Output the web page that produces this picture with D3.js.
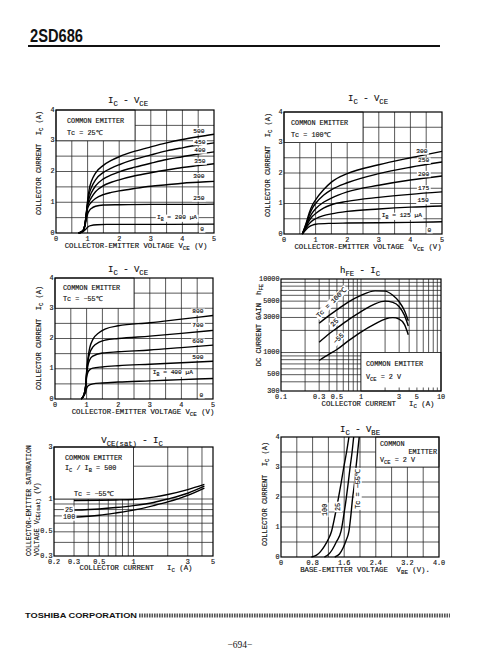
<!DOCTYPE html>
<html><head><meta charset="utf-8">
<script src="https://cdn.jsdelivr.net/npm/d3@7"></script>
<style>
html,body{margin:0;padding:0;background:#fff;}
svg text{font-family:"Liberation Mono","DejaVu Sans Mono",monospace;fill:#111;white-space:pre;stroke:#111;stroke-width:0.15px;}
</style></head><body>
<svg id="page" width="490" height="660"></svg>
<script>
// ================= DATA =================
// Panels 1-3 : IC - VCE
const vceTicks = [0, 1, 2, 3, 4, 5];
const icTicks = [0, 1, 2, 3, 4];
const vceGrid = [0.5, 1, 1.5, 2, 2.5, 3, 3.5, 4, 4.5];
const icGrid = [0.5, 1, 1.5, 2, 2.5, 3, 3.5];

// Tc = 25 C  (IB in uA)
const ib25Labels = ["500", "450", "400", "350", "300", "250", "I_{B} = 200 µA", "0"];
const ic25_500 = [[0.72,0],[0.85,0.07],[0.92,0.3],[0.97,0.75],[1.0,1.05],[1.05,1.42],[1.12,1.68],[1.25,1.95],[1.5,2.2],[1.75,2.36],[2,2.48],[2.5,2.66],[3,2.8],[3.5,2.93],[4,3.04],[4.5,3.13],[5,3.21]];
const ic25_450 = [[0.72,0],[0.85,0.07],[0.92,0.3],[0.97,0.72],[1.0,0.98],[1.05,1.27],[1.12,1.48],[1.25,1.73],[1.5,1.97],[1.75,2.11],[2,2.22],[2.5,2.4],[3,2.54],[3.5,2.67],[4,2.77],[4.5,2.86],[5,2.93]];
const ic25_400 = [[0.72,0],[0.85,0.07],[0.92,0.3],[0.97,0.7],[1.0,0.92],[1.05,1.13],[1.12,1.31],[1.25,1.53],[1.5,1.76],[1.75,1.89],[2,1.99],[2.5,2.14],[3,2.27],[3.5,2.39],[4,2.48],[4.5,2.57],[5,2.64]];
const ic25_350 = [[0.72,0],[0.85,0.07],[0.92,0.3],[0.97,0.68],[1.0,0.87],[1.05,1.02],[1.12,1.15],[1.25,1.34],[1.5,1.54],[1.75,1.65],[2,1.73],[2.5,1.86],[3,1.96],[3.5,2.05],[4,2.13],[4.5,2.19],[5,2.25]];
const ic25_300 = [[0.72,0],[0.85,0.07],[0.92,0.28],[0.97,0.64],[1.0,0.8],[1.05,0.91],[1.12,1.0],[1.25,1.12],[1.5,1.25],[1.75,1.32],[2,1.37],[2.5,1.45],[3,1.52],[3.5,1.57],[4,1.62],[4.5,1.65],[5,1.68]];
const ic25_250 = [[0.72,0],[0.85,0.06],[0.92,0.25],[0.97,0.5],[1.0,0.62],[1.05,0.72],[1.12,0.8],[1.25,0.87],[1.5,0.91],[2,0.92],[3,0.93],[4,0.93],[5,0.94]];
const ic25_200 = [[0.7,0],[0.85,0.04],[0.95,0.13],[1.0,0.19],[1.1,0.24],[1.3,0.27],[1.6,0.28],[3,0.28],[5,0.29]];

// Tc = 100 C
const ib100Labels = ["300", "250", "200", "175", "150", "I_{B} = 125 µA", "0"];
const ic100_300 = [[0.58,0],[0.7,0.35],[0.8,0.7],[0.9,0.95],[1,1.12],[1.25,1.45],[1.5,1.7],[2,1.98],[3,2.27],[4,2.5],[5,2.71]];
const ic100_250 = [[0.58,0],[0.7,0.32],[0.8,0.62],[0.9,0.85],[1,1.0],[1.25,1.27],[1.5,1.45],[2,1.68],[3,1.98],[4,2.19],[5,2.36]];
const ic100_200 = [[0.58,0],[0.7,0.28],[0.8,0.52],[0.9,0.7],[1,0.83],[1.25,1.04],[1.5,1.18],[2,1.38],[3,1.6],[4,1.77],[5,1.9]];
const ic100_175 = [[0.58,0],[0.7,0.24],[0.8,0.44],[0.9,0.58],[1,0.67],[1.25,0.85],[1.5,0.96],[2,1.07],[3,1.2],[4,1.3],[5,1.38]];
const ic100_150 = [[0.58,0],[0.7,0.2],[0.8,0.34],[0.9,0.44],[1,0.5],[1.25,0.6],[1.5,0.66],[2,0.74],[3,0.82],[4,0.88],[5,0.92]];
const ic100_125 = [[0.58,0],[0.7,0.15],[0.8,0.24],[0.9,0.29],[1,0.32],[1.5,0.35],[2,0.36],[3,0.37],[4,0.38],[5,0.4]];

// Tc = -55 C
const ibm55Labels = ["800", "700", "600", "500", "I_{B} = 400 µA", "0"];
const icm55_800 = [[0.83,0],[0.92,0.15],[0.97,0.45],[1.0,0.9],[1.05,1.4],[1.1,1.7],[1.2,1.97],[1.4,2.2],[1.6,2.32],[2,2.42],[3,2.52],[4,2.64],[5,2.76]];
const icm55_700 = [[0.83,0],[0.92,0.15],[0.97,0.43],[1.0,0.85],[1.05,1.3],[1.1,1.52],[1.2,1.72],[1.4,1.88],[1.6,1.95],[2,2.0],[3,2.08],[4,2.17],[5,2.27]];
const icm55_600 = [[0.83,0],[0.92,0.15],[0.97,0.42],[1.0,0.8],[1.05,1.15],[1.1,1.3],[1.2,1.42],[1.5,1.52],[2,1.56],[3,1.62],[4,1.7],[5,1.78]];
const icm55_500 = [[0.83,0],[0.92,0.14],[0.97,0.4],[1.0,0.72],[1.05,0.9],[1.1,0.97],[1.2,1.02],[1.5,1.06],[2,1.1],[3,1.15],[4,1.2],[5,1.25]];
const icm55_400 = [[0.83,0],[0.92,0.12],[0.97,0.22],[1.0,0.35],[1.05,0.44],[1.2,0.5],[1.5,0.53],[2,0.56],[3,0.6],[4,0.64],[5,0.68]];

// Panel 4 : hFE - IC  (log-log)
const hfeXGrid = [0.2,0.3,0.4,0.5,0.6,0.7,0.8,0.9,1,2,3,4,5,6,7,8,9];
const hfeYGrid = [400,500,600,700,800,900,1000,2000,3000,4000,5000,6000,7000,8000,9000];
const hfeXTicks = [0.1, 0.3, 0.5, 1, 3, 5, 10];
const hfeXTickLabels = ["0.1", "0.3", "0.5", "1", "3", "5", "10"];
const hfeYTicks = [300, 500, 1000, 3000, 5000, 10000];
const hfeYTickLabels = ["300", "500", "1000", "3000", "5000", "10000"];
const hfeTempLabels = ["Tc = 100℃", "25", "−55"];
const hfe100 = [[0.3,2500],[0.4,3200],[0.5,3800],[0.7,4900],[1,6000],[1.5,6900],[2,6850],[2.5,6000],[3,4900],[3.5,3700],[3.9,2700]];
const hfe25 = [[0.3,1380],[0.4,1800],[0.5,2150],[0.7,2800],[1,3600],[1.5,4600],[2,5000],[2.5,4800],[3,4200],[3.5,3200],[3.9,2300]];
const hfem55 = [[0.3,780],[0.4,950],[0.5,1100],[0.7,1450],[1,1900],[1.5,2450],[2,2850],[2.5,2980],[3,2850],[3.5,2400],[3.9,1750]];

// Panel 5 : VCE(sat) - IC (log-log)
const satXGrid = [0.3,0.4,0.5,0.6,0.7,0.8,0.9,1,2,3,4];
const satYGrid = [0.4,0.5,0.6,0.7,0.8,0.9,1,2];
const satXTicks = [0.2, 0.3, 0.5, 1, 3, 5];
const satXTickLabels = ["0.2", "0.3", "0.5", "1", "3", "5"];
const satYTicks = [0.3, 0.5, 1, 3];
const satYTickLabels = ["0.3", "0.5", "1", "3"];
const satTempLabels = ["Tc = −55℃", "25", "100"];
const satm55 = [[0.3,0.97],[0.5,0.975],[0.7,0.98],[1,0.99],[1.5,1.04],[2,1.1],[3,1.22],[4.2,1.36]];
const sat25 = [[0.3,0.79],[0.5,0.81],[0.7,0.835],[1,0.87],[1.5,0.93],[2,1.0],[3,1.13],[4.2,1.31]];
const sat100 = [[0.3,0.68],[0.5,0.71],[0.7,0.745],[1,0.79],[1.5,0.87],[2,0.94],[3,1.08],[4.2,1.26]];

// Panel 6 : IC - VBE
const vbeTicks = [0, 0.8, 1.6, 2.4, 3.2, 4.0];
const vbeTickLabels = ["0", "0.8", "1.6", "2.4", "3.2", "4.0"];
const vbeGrid = [0.4,0.8,1.2,1.6,2.0,2.4,2.8,3.2,3.6];
const vbeTempLabels = ["100", "25", "Tc = −55℃"];
const vbe100 = [[0.77,0],[0.9,0.06],[1.0,0.18],[1.1,0.36],[1.2,0.6],[1.28,0.86],[1.37,1.4],[1.45,1.94],[1.52,2.45],[1.59,3.0],[1.66,3.5],[1.72,4]];
const vbe25 = [[1.1,0],[1.2,0.08],[1.3,0.25],[1.4,0.5],[1.52,0.86],[1.59,1.4],[1.65,1.94],[1.7,2.45],[1.75,3.0],[1.8,3.5],[1.84,4]];
const vbem55 = [[1.36,0],[1.48,0.1],[1.57,0.3],[1.65,0.56],[1.72,0.86],[1.77,1.4],[1.81,1.94],[1.86,2.45],[1.9,3.0],[1.94,3.5],[1.98,4]];

// ================= DRAWING =================
const svg = d3.select('#page');
svg.append('rect').attr('width', 490).attr('height', 660).attr('fill', '#fff');

function rich(sel, str, fs) {
  const re = /_\{([^}]*)\}/g; let last = 0, m; const segs = [];
  while ((m = re.exec(str))) {
    if (m.index > last) segs.push({t: str.slice(last, m.index), sub: false});
    segs.push({t: m[1], sub: true}); last = re.lastIndex;
  }
  if (last < str.length) segs.push({t: str.slice(last), sub: false});
  let cur = 0;
  segs.forEach(s => {
    const target = s.sub ? fs * 0.3 : 0;
    const ts = sel.append('tspan').text(s.t).attr('dy', target - cur);
    if (s.sub) ts.attr('font-size', fs * 0.8);
    cur = target;
  });
  return sel;
}

function txt(g, x, y, str, o = {}) {
  const fs = o.fs || 7;
  const wrap = g.append('g');
  if (o.rot !== undefined) wrap.attr('transform', `rotate(${o.rot},${x},${y})`);
  const t = wrap.append('text').attr('x', x).attr('y', y).attr('font-size', fs)
    .attr('text-anchor', o.anchor || 'start');
  rich(t, str, fs);
  if (o.bg) {
    const bb = t.node().getBBox();
    wrap.insert('rect', 'text').attr('x', bb.x - 1.2).attr('y', bb.y + 0.3)
      .attr('width', bb.width + 2.4).attr('height', bb.height - 0.6).attr('fill', '#fff');
  }
  return t;
}

function panel(c) {
  const g = svg.append('g');
  const x = (c.xlog ? d3.scaleLog() : d3.scaleLinear()).domain(c.xd).range([c.l, c.r]);
  const y = (c.ylog ? d3.scaleLog() : d3.scaleLinear()).domain(c.yd).range([c.b, c.t]);
  g.selectAll('.gx').data(c.xg).join('line')
    .attr('x1', d => x(d)).attr('x2', d => x(d)).attr('y1', c.t).attr('y2', c.b)
    .attr('stroke', '#222').attr('stroke-width', 0.75);
  g.selectAll('.gy').data(c.yg).join('line')
    .attr('y1', d => y(d)).attr('y2', d => y(d)).attr('x1', c.l).attr('x2', c.r)
    .attr('stroke', '#222').attr('stroke-width', 0.75);
  if (c.box) {
    const [bx0, bx1] = c.box[0], [by0, by1] = c.box[1];
    g.append('rect').attr('x', x(bx0)).attr('y', y(by1))
      .attr('width', x(bx1) - x(bx0)).attr('height', y(by0) - y(by1))
      .attr('fill', '#fff').attr('stroke', '#222').attr('stroke-width', 0.8);
  }
  const line = d3.line().x(d => x(d[0])).y(d => y(d[1])).curve(d3.curveMonotoneX);
  g.selectAll('.cv').data(c.curves).join('path').attr('d', line)
    .attr('fill', 'none').attr('stroke', '#000').attr('stroke-width', 1.4);
  g.append('rect').attr('x', c.l).attr('y', c.t).attr('width', c.r - c.l).attr('height', c.b - c.t)
    .attr('fill', 'none').attr('stroke', '#000').attr('stroke-width', 1.2);
  c.xt.forEach((v, i) => txt(g, x(v), c.b + 7.5, c.xtl ? c.xtl[i] : String(v), {anchor: 'middle', fs: 6.8}));
  c.yt.forEach((v, i) => txt(g, c.l - 1.5, y(v) + 1.5, c.ytl ? c.ytl[i] : String(v), {anchor: 'end', fs: 6.8}));
  return {g, x, y};
}

// ---------- header ----------
svg.append('text').attr('x', 30).attr('y', 42).attr('font-size', 18).attr('font-weight', 'bold')
  .style('font-family', '"Liberation Sans",Arial,sans-serif').style('stroke', 'none').attr('textLength', 53)
  .attr('lengthAdjust', 'spacingAndGlyphs').text('2SD686');
svg.append('line').attr('x1', 28).attr('x2', 440).attr('y1', 46).attr('y2', 46)
  .attr('stroke', '#111').attr('stroke-width', 2);

// ---------- Panel 1 ----------
{
  const p = panel({l: 56, r: 214, t: 110, b: 233, xd: [0, 5], yd: [0, 4], xg: vceGrid, yg: icGrid,
    box: [[0, 2.5], [3, 4]], xt: vceTicks, yt: icTicks,
    curves: [ic25_500, ic25_450, ic25_400, ic25_350, ic25_300, ic25_250, ic25_200]});
  txt(p.g, 128, 103, "I_{C} - V_{CE}", {anchor: 'middle', fs: 9});
  txt(p.g, 41, 163, "COLLECTOR CURRENT  I_{C} (A)", {anchor: 'middle', rot: -90});
  txt(p.g, 136, 248, "COLLECTOR-EMITTER VOLTAGE V_{CE} (V)", {anchor: 'middle', fs: 7.3});
  txt(p.g, 67, 123, "COMMON EMITTER", {fs: 6.8});
  txt(p.g, 67, 135, "Tc = 25℃", {fs: 6.8});
  const pos = [[4.52, 3.33], [4.55, 2.97], [4.55, 2.7], [4.55, 2.34], [4.52, 1.86], [4.52, 1.14], [3.83, 0.51], [4.62, 0.13]];
  ib25Labels.forEach((s, i) => txt(p.g, p.x(pos[i][0]), p.y(pos[i][1]) + 2, s, {anchor: 'middle', fs: 6.2, bg: true}));
}

// ---------- Panel 2 ----------
{
  const p = panel({l: 284, r: 442, t: 112, b: 234, xd: [0, 5], yd: [0, 4], xg: vceGrid, yg: icGrid,
    box: [[0, 2.5], [3, 4]], xt: vceTicks, yt: icTicks,
    curves: [ic100_300, ic100_250, ic100_200, ic100_175, ic100_150, ic100_125]});
  txt(p.g, 368, 101, "I_{C} - V_{CE}", {anchor: 'middle', fs: 9});
  txt(p.g, 270, 165, "COLLECTOR CURRENT  I_{C} (A)", {anchor: 'middle', rot: -90});
  txt(p.g, 368, 249, "COLLECTOR-EMITTER VOLTAGE  V_{CE} (V)", {anchor: 'middle', fs: 7.3});
  txt(p.g, 291, 124.5, "COMMON EMITTER", {fs: 6.8});
  txt(p.g, 291, 137, "Tc = 100℃", {fs: 6.8});
  const pos = [[4.36, 2.72], [4.42, 2.42], [4.42, 1.98], [4.42, 1.51], [4.4, 1.1], [3.73, 0.61], [4.6, 0.14]];
  ib100Labels.forEach((s, i) => txt(p.g, p.x(pos[i][0]), p.y(pos[i][1]) + 2, s, {anchor: 'middle', fs: 6.2, bg: true}));
}

// ---------- Panel 3 ----------
{
  const p = panel({l: 55, r: 213, t: 278, b: 399, xd: [0, 5], yd: [0, 4], xg: vceGrid, yg: icGrid,
    box: [[0, 2.5], [3, 4]], xt: vceTicks, yt: icTicks,
    curves: [icm55_800, icm55_700, icm55_600, icm55_500, icm55_400]});
  txt(p.g, 128, 272, "I_{C} - V_{CE}", {anchor: 'middle', fs: 9});
  txt(p.g, 41, 338, "COLLECTOR CURRENT  I_{C} (A)", {anchor: 'middle', rot: -90});
  txt(p.g, 143, 414, "COLLECTOR-EMITTER VOLTAGE V_{CE} (V)", {anchor: 'middle', fs: 7.3});
  txt(p.g, 63, 289.5, "COMMON EMITTER", {fs: 6.8});
  txt(p.g, 63, 300.5, "Tc = −55℃", {fs: 6.8});
  const pos = [[4.52, 2.9], [4.52, 2.44], [4.52, 1.91], [4.52, 1.4], [3.73, 0.88], [4.63, 0.14]];
  ibm55Labels.forEach((s, i) => txt(p.g, p.x(pos[i][0]), p.y(pos[i][1]) + 2, s, {anchor: 'middle', fs: 6.2, bg: true}));
}

// ---------- Panel 4 ----------
{
  const p = panel({l: 281, r: 441, t: 279, b: 391, xlog: true, ylog: true, xd: [0.1, 10], yd: [300, 10000],
    xg: hfeXGrid, yg: hfeYGrid, box: [[1, 10], [300, 1000]],
    xt: hfeXTicks, xtl: hfeXTickLabels, yt: hfeYTicks, ytl: hfeYTickLabels,
    curves: [hfe100, hfe25, hfem55]});
  p.g.selectAll('.mt').data(hfeXGrid.filter(d => d > 1)).join('line')
    .attr('x1', d => p.x(d)).attr('x2', d => p.x(d)).attr('y1', 391).attr('y2', 387.5)
    .attr('stroke', '#222').attr('stroke-width', 0.75);
  txt(p.g, 360, 273, "h_{FE} - I_{C}", {anchor: 'middle', fs: 9});
  txt(p.g, 261, 325, "DC CURRENT GAIN  h_{FE}", {anchor: 'middle', rot: -90});
  txt(p.g, 378, 406, "COLLECTOR CURRENT   I_{C} (A)", {anchor: 'middle', fs: 7.3});
  txt(p.g, 366, 366, "COMMON EMITTER", {fs: 6.8});
  txt(p.g, 366, 378.5, "V_{CE} = 2 V", {fs: 6.8});
  const pos = [[333, 302], [336, 322], [340, 338]];
  hfeTempLabels.forEach((s, i) => txt(p.g, pos[i][0], pos[i][1] + 2, s, {anchor: 'middle', fs: 6.8, rot: -45, bg: true}));
}

// ---------- Panel 5 ----------
{
  const p = panel({l: 54, r: 213, t: 447, b: 556, xlog: true, ylog: true, xd: [0.2, 5], yd: [0.3, 3],
    xg: satXGrid, yg: satYGrid, box: [[0.2, 1], [1, 3]],
    xt: satXTicks, xtl: satXTickLabels, yt: satYTicks, ytl: satYTickLabels,
    curves: [satm55, sat25, sat100]});
  txt(p.g, 132, 443, "V_{CE(sat)} - I_{C}", {anchor: 'middle', fs: 9});
  txt(p.g, 31, 556, "COLLECTOR-EMITTER SATURATION", {rot: -90, fs: 6.6});
  txt(p.g, 38.5, 556, "VOLTAGE V_{CE(sat)} (V)", {rot: -90, fs: 6.6});
  txt(p.g, 136, 570, "COLLECTOR CURRENT   I_{C} (A)", {anchor: 'middle', fs: 7.3});
  txt(p.g, 65, 459.5, "COMMON EMITTER", {fs: 6.8});
  txt(p.g, 65, 469.5, "I_{C} / I_{B} = 500", {fs: 6.8});
  const pos = [[74, 496], [65, 512], [63, 519]];
  satTempLabels.forEach((s, i) => txt(p.g, pos[i][0], pos[i][1], s, {fs: 6.8, bg: true}));
}

// ---------- Panel 6 ----------
{
  const p = panel({l: 281, r: 439, t: 437, b: 557, xd: [0, 4], yd: [0, 4], xg: vbeGrid, yg: icGrid,
    box: [[2.4, 4], [3, 4]], xt: vbeTicks, xtl: vbeTickLabels, yt: icTicks,
    curves: [vbe100, vbe25, vbem55]});
  txt(p.g, 360, 432, "I_{C} - V_{BE}", {anchor: 'middle', fs: 9});
  txt(p.g, 267, 494, "COLLECTOR CURRENT  I_{C} (A)", {anchor: 'middle', rot: -90});
  txt(p.g, 365, 572, "BASE-EMITTER VOLTAGE  V_{BE} (V).", {anchor: 'middle', fs: 7.3});
  txt(p.g, 380, 446, "COMMON", {fs: 6.8});
  txt(p.g, 437, 454, "EMITTER", {fs: 6.8, anchor: 'end'});
  txt(p.g, 380, 462, "V_{CE} = 2 V", {fs: 6.8});
  const pos = [[1.11, 1.57], [1.45, 1.67], [1.95, 2.27]];
  vbeTempLabels.forEach((s, i) => txt(p.g, p.x(pos[i][0]) + 2, p.y(pos[i][1]), s, {anchor: 'middle', fs: 6.8, rot: -90, bg: true}));
}

// ---------- footer ----------
svg.append('text').attr('x', 25).attr('y', 618).attr('font-size', 7.5).attr('font-weight', 'bold')
  .style('font-family', '"Liberation Sans",Arial,sans-serif').style('stroke', 'none').attr('textLength', 112)
  .attr('lengthAdjust', 'spacingAndGlyphs').text('TOSHIBA CORPORATION');
svg.append('line').attr('x1', 139).attr('x2', 450).attr('y1', 615.5).attr('y2', 615.5)
  .attr('stroke', '#555').attr('stroke-width', 4).attr('stroke-dasharray', '1.6 0.9');
svg.append('text').attr('x', 240).attr('y', 648).attr('font-size', 9.5).attr('text-anchor', 'middle')
  .style('font-family', '"Liberation Serif",serif').style('stroke', 'none').text('−694−');
</script>
</body></html>
